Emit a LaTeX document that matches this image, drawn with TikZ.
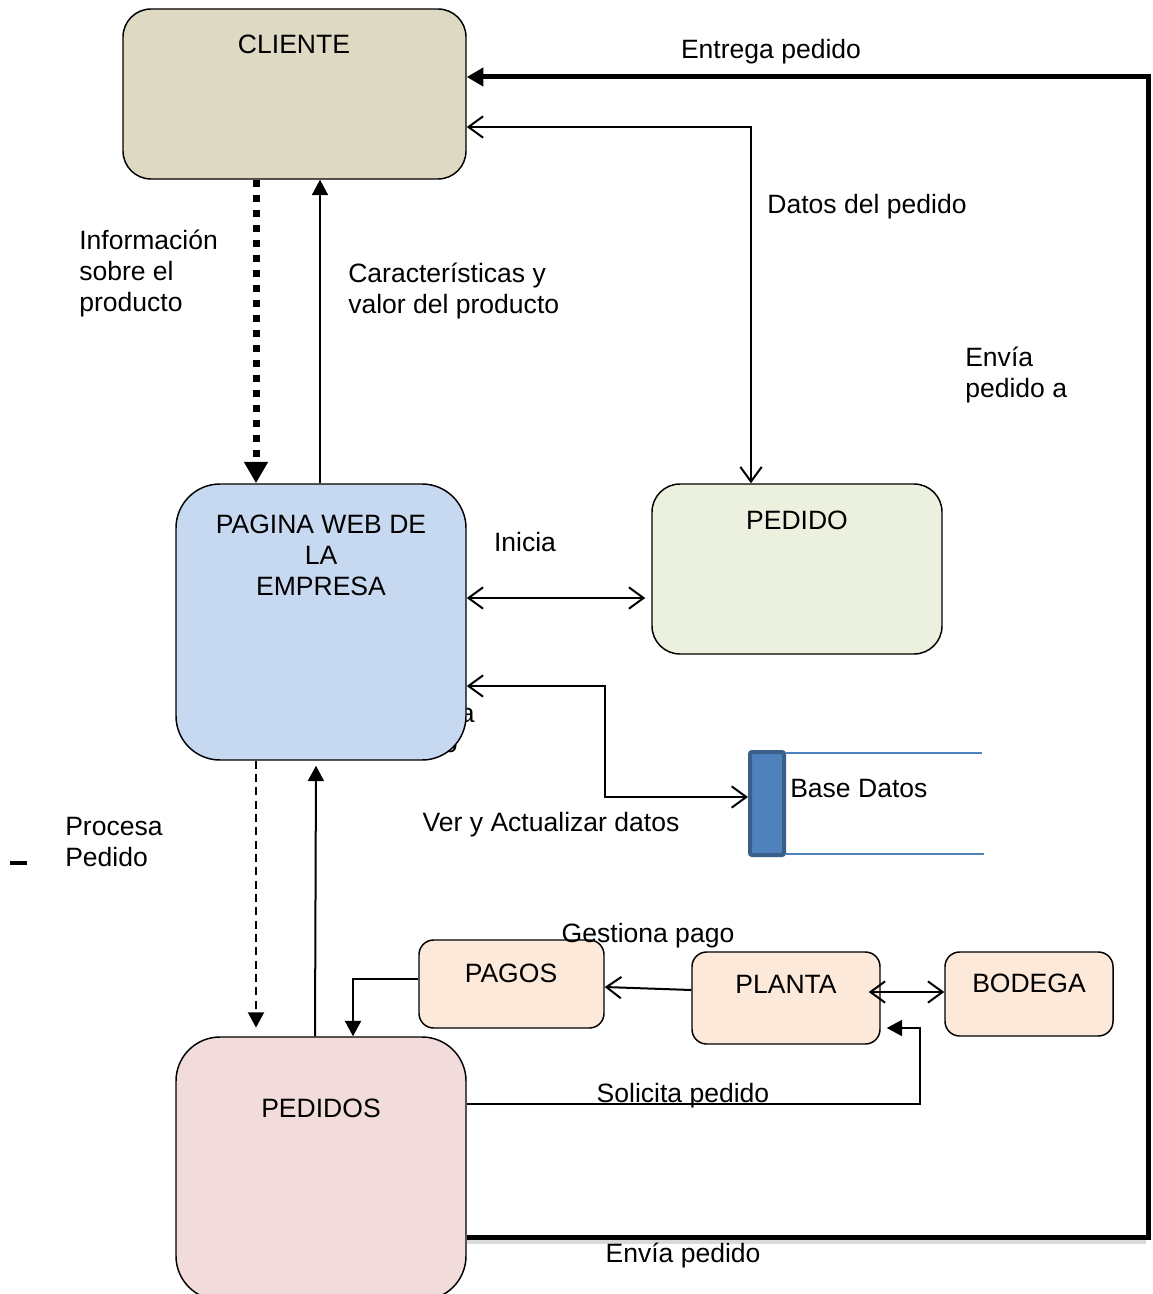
\documentclass[tikz,border=0pt]{standalone}
\usepackage{fontspec}
\setmainfont{Liberation Sans}
\usetikzlibrary{arrows.meta}

\definecolor{clientefill}{HTML}{DDD9C3}
\definecolor{webfill}{HTML}{C6D9F1}
\definecolor{pedidofill}{HTML}{EBF1DE}
\definecolor{pedidosfill}{HTML}{F2DCDB}
\definecolor{procfill}{HTML}{FDE9D9}
\definecolor{dbfill}{HTML}{4F81BD}
\definecolor{dbline}{HTML}{3A5F8B}

\tikzset{
  barb/.tip={Straight Barb[length=11pt,width=16pt]},
  tri/.tip={Triangle[length=11.5pt,width=12pt]},
  bigtri/.tip={Triangle[length=12.5pt,width=13.5pt]},
  hugetri/.tip={Triangle[length=16pt,width=17pt]},
  box/.style={draw=black, line width=1.1pt, rectangle, inner sep=0pt},
  txt/.style={inner sep=0pt, font=\fontsize{19.9}{23.25}\selectfont},
  conn/.style={line width=1.5pt},
  heavy/.style={line width=3.75pt},
}

\begin{document}
\begin{tikzpicture}[x=0.75pt,y=-0.75pt]
\useasboundingbox (0,0) rectangle (1152,1294);
\clip (0,0) rectangle (1152,1294);

% label partly covered by the web page box
\node[txt, anchor=base east] (consulta) at (475,722) {Consulta};
\node[txt, anchor=base east] (producto) at (458,752) {producto};

% process boxes
\node[box, fill=clientefill, minimum width=257.25pt, minimum height=127.5pt, rounded corners=21pt] (cliente) at (294.5,94) {};
\node[box, fill=webfill, minimum width=217.5pt, minimum height=207pt, rounded corners=33pt] (pagina) at (321,622) {};
\node[box, fill=pedidofill, minimum width=217.5pt, minimum height=127.5pt, rounded corners=21pt] (pedido) at (797,569) {};
\node[box, fill=pedidosfill, minimum width=217.5pt, minimum height=197.25pt, rounded corners=33pt] (pedidos) at (321,1168.5) {};
\node[box, fill=procfill, minimum width=138.75pt, minimum height=66pt, rounded corners=11pt] (pagos) at (511.5,984) {};
\node[box, fill=procfill, minimum width=141pt, minimum height=69pt, rounded corners=11pt] (planta) at (786,998) {};
\node[box, fill=procfill, minimum width=126pt, minimum height=63pt, rounded corners=11pt] (bodega) at (1029,994) {};

% data store
\node[draw=dbline, fill=dbfill, line width=3pt, rounded corners=1.5pt, minimum width=25.5pt, minimum height=77.25pt, inner sep=0pt] (bd) at (767,803.5) {};
\draw[dbfill, line width=1.1pt] (bd.north east |- 0,753) -- (982,753);
\draw[dbfill, line width=1.1pt] (bd.south east |- 0,854) -- (984,854);

% box texts (multi-line nodes are placed by the baseline of their last line)
\node[txt, anchor=base] (t-cliente) at (294,53.5) {CLIENTE};
\node[txt, anchor=base, align=center, font=\fontsize{19.9}{22.9}\selectfont] (t-pagina) at (321,595) {PAGINA WEB DE\\LA\\EMPRESA};
\node[txt, anchor=base] (t-pedido) at (797,529) {PEDIDO};
\node[txt, anchor=base] (t-pedidos) at (321,1117) {PEDIDOS};
\node[txt, anchor=base] (t-pagos) at (511,982) {PAGOS};
\node[txt, anchor=base] (t-planta) at (786,993) {PLANTA};
\node[txt, anchor=base] (t-bodega) at (1029,992) {BODEGA};
\node[txt, anchor=base west] (t-bd) at (790,797) {Base Datos};

% delivery loop back to the client
\coordinate (rtop) at (1148,77);
\coordinate (rbot) at (1148,1237);
\draw[gray!30, line width=3pt] (pedidos.east |- 0,1242) -- (1146,1242);
\draw[heavy, -bigtri] (pedidos.east |- rbot) -- (rbot) -- (rtop) -- (cliente.east |- rtop);

% connectors
\draw[conn, barb-barb] (cliente.east |- 0,127) -| (pedido.north -| 751,0);
\draw[line width=5.25pt, dash pattern=on 5.25pt off 6pt, -hugetri] (cliente.south -| 256,0) -- (pagina.north -| 256,0);
\draw[conn, -tri] (pagina.north -| 320,0) -- (cliente.south -| 320,0);
\draw[conn, barb-barb, shorten >=4.5pt] (pagina.east |- 0,598) -- (pedido.west |- 0,598);
\draw[conn, barb-barb] (pagina.east |- 0,686) -| (605,797) -- (bd.west |- 0,797);
\draw[conn, dash pattern=on 6pt off 4pt, -tri, shorten >=6.5pt] (pagina.south -| 256,0) -- (pedidos.north -| 256,0);
\draw[conn, -tri, shorten >=3.75pt] (pedidos.north -| 315,0) -- (pagina.south -| 316,0);
\draw[conn, -tri] (pagos.west |- 0,979) -| (pedidos.north -| 353,0);
\draw[conn, -barb] (planta.west |- 0,990) -- (pagos.east |- 0,987);
\draw[conn, barb-barb, shorten <=-9pt] (planta.east |- 0,992) -- (bodega.west |- 0,992);
\draw[conn, -tri, shorten >=4.5pt] (pedidos.east |- 0,1104) -| (920,1028) -- (planta.east |- 0,1028);

% connector labels
\node[txt, anchor=base] (l-entrega) at (771,59) {Entrega pedido};
\node[txt, anchor=base] (l-datos) at (867,214) {Datos del pedido};
\node[txt, anchor=base west, align=left] (l-info) at (79,311) {Información\\sobre el\\producto};
\node[txt, anchor=base west, align=left] (l-carac) at (348,313) {Características y\\valor del producto};
\node[txt, anchor=base west, align=left] (l-envia-a) at (965,397) {Envía\\pedido a};
\node[txt, anchor=base] (l-inicia) at (525,551) {Inicia};
\node[txt, anchor=base] (l-ver) at (551,831) {Ver y Actualizar datos};
\node[txt, anchor=base west, align=left] (l-procesa) at (65,866) {Procesa\\Pedido};
\node[txt, anchor=base] (l-gestiona) at (648,942) {Gestiona pago};
\node[txt, anchor=base] (l-solicita) at (683,1102) {Solicita pedido};
\node[txt, anchor=base] (l-envia) at (683,1262) {Envía pedido};

% short dash at the left margin
\draw[line width=3pt] (10,863) -- (27,863);
\end{tikzpicture}
\end{document}
